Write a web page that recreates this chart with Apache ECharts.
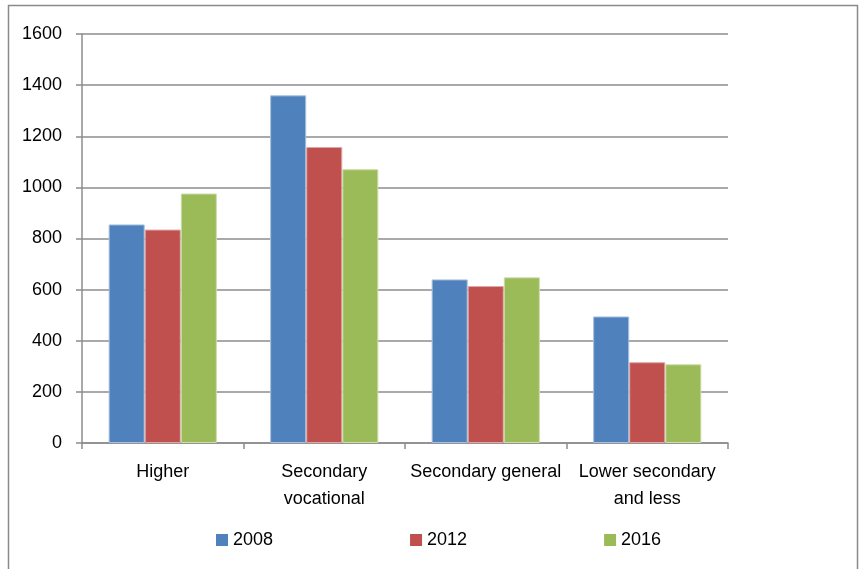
<!DOCTYPE html>
<html>
<head>
<meta charset="utf-8">
<script src="https://cdn.jsdelivr.net/npm/echarts@6/dist/echarts.min.js"></script>
<style>
  html, body { margin: 0; padding: 0; background: #fff; }
  #chart { width: 859px; height: 569px; }
</style>
</head>
<body>
<div id="chart"></div>
<script>
// categories and values
const categories = ['Higher', 'Secondary\nvocational', 'Secondary general', 'Lower secondary\nand less'];
const years = ['2008', '2012', '2016'];
const values2008 = [855, 1360, 640, 495];
const values2012 = [835, 1158, 614, 316];
const values2016 = [976, 1071, 648, 308];
const yTicks = [0, 200, 400, 600, 800, 1000, 1200, 1400, 1600];

const colors = ['#4F81BD', '#C0504D', '#9BBB59'];
const edgeColors = ['#A7C0DE', '#DFA8A6', '#CDDDAC'];
const gridGray = '#8C8C8C';
const font = 'Liberation Sans, Arial, sans-serif';

const chart = echarts.init(document.getElementById('chart'));

const makeSeries = (name, data, i) => ({
  name,
  type: 'bar',
  data,
  barGap: '0%',
  barCategoryGap: '33%',
  itemStyle: {
    color: colors[i],
    borderColor: edgeColors[i],
    borderWidth: 1
  }
});

const option = {
  animation: false,
  color: colors,
  graphic: [
    {
      type: 'rect',
      shape: { x: 8.5, y: 5.5, width: 849, height: 600 },
      style: { fill: 'none', stroke: '#8A8A8A', lineWidth: 1.5 },
      silent: true
    }
  ],
  grid: {
    left: 82,
    right: 131,
    top: 34,
    bottom: 126,
    containLabel: false
  },
  legend: {
    data: years,
    left: 211,
    top: 526,
    itemWidth: 12,
    itemHeight: 12,
    itemGap: 137,
    icon: 'rect',
    itemStyle: { borderWidth: 0 },
    textStyle: {
      fontFamily: font,
      fontSize: 18,
      color: '#000'
    }
  },
  xAxis: {
    type: 'category',
    data: categories,
    axisLine: { lineStyle: { color: gridGray, width: 1.5 } },
    axisTick: { show: true, length: 6, lineStyle: { color: gridGray, width: 1.5 } },
    axisLabel: {
      interval: 0,
      fontFamily: font,
      fontSize: 18,
      color: '#000',
      lineHeight: 27,
      margin: 16
    },
    splitLine: { show: false }
  },
  yAxis: {
    type: 'value',
    min: yTicks[0],
    max: yTicks[yTicks.length - 1],
    interval: 200,
    axisLine: { show: true, lineStyle: { color: gridGray, width: 1.5 } },
    axisTick: { show: true, length: 6, lineStyle: { color: gridGray, width: 1.5 } },
    axisLabel: {
      fontFamily: font,
      fontSize: 18,
      color: '#000',
      margin: 20,
      formatter: (v) => String(v)
    },
    splitLine: { lineStyle: { color: gridGray, width: 1.5 } }
  },
  series: [
    makeSeries(years[0], values2008, 0),
    makeSeries(years[1], values2012, 1),
    makeSeries(years[2], values2016, 2)
  ]
};

chart.setOption(option);
</script>
</body>
</html>
